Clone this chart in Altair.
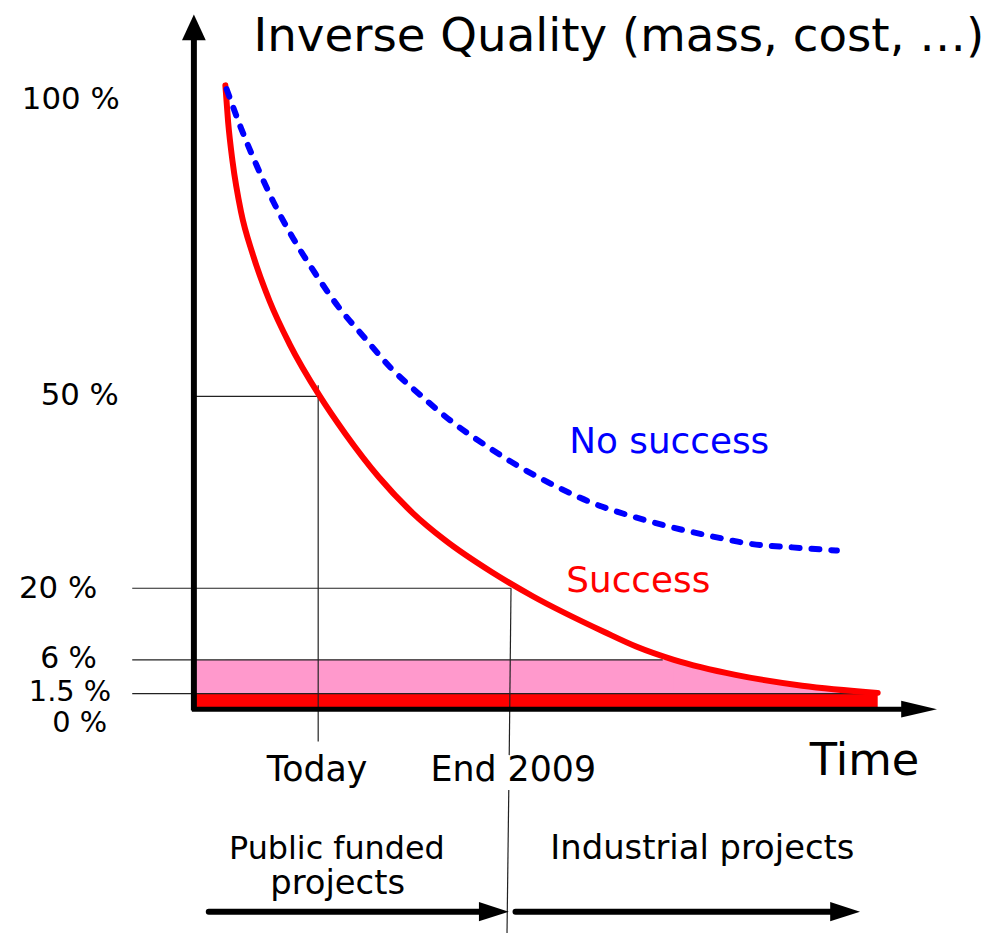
import altair as alt
import pandas as pd

# ---------------- data (time in arbitrary units, quality in %) ----------------
success_t = [4.48, 4.85, 5.45, 6.57, 8.16, 10.41, 13.04, 17.14, 20.48, 25.0, 29.52, 33.78,
             40.16, 45.61, 55.19, 59.44, 64.5, 72.74, 81.65, 91.76]
success_v = [100.0, 94.1, 87.7, 79.7, 72.8, 65.3, 58.5, 50.0, 44.25, 37.4, 31.8, 27.6,
             22.5, 18.44, 11.44, 8.6, 6.0, 4.0, 2.56, 1.6]

nosuccess_t = [4.65, 6.52, 8.64, 10.90, 13.56, 16.49, 19.55, 23.14, 26.60, 30.59, 34.84,
               39.23, 43.88, 48.80, 53.46, 59.04, 64.36, 69.68, 75.00, 80.32, 86.30]
nosuccess_v = [99.4, 93.3, 87.2, 81.3, 75.4, 69.8, 64.5, 59.4, 54.6, 50.2, 46.0,
               42.4, 38.97, 35.9, 33.4, 31.2, 29.5, 28.1, 26.9, 26.4, 25.9]

tick_labels = ["100 %", "50 %", "20 %", "6 %", "1.5 %", "0 %"]
tick_label_t = [-16.2, -15.0, -17.9, -16.5, -16.3, -15.0]
tick_label_v = [97.7, 50.0, 19.9, 6.2, 1.7, -2.3]

guide_levels = [50, 20, 6, 1.5]
guide_start = [0.27, -7.98, -7.98, -7.98]
guide_end = [17.3, 42.7, 63.0, 91.7]

today_t = 16.9
end2009_top = (42.7, 20.0)
end2009_bottom = (42.15, -37.5)

target_band = (1.5, 6.0)      # pink band
floor_level = 1.5             # red bar top
axis_t = 0.27
cross_t = 64.5                # where success reaches 6 %

# ---------------- scales ----------------
W, H = 984, 925
xs = alt.Scale(domain=[0, 100], range=[185, 937], nice=False, zero=False)
ys = alt.Scale(domain=[-40, 0, 1.5, 6, 20, 50, 100, 115],
               range=[952, 702, 687, 653, 581, 388, 75, -19], nice=False, zero=False)

def X(f="t"):
    return alt.X(f"{f}:Q", scale=xs, axis=None)

def Y(f="v"):
    return alt.Y(f"{f}:Q", scale=ys, axis=None)

succ = pd.DataFrame({"t": success_t, "v": success_v})
nosucc = pd.DataFrame({"t": nosuccess_t, "v": nosuccess_v})

# pink band: between 1.5 % and min(success, 6 %)
pink_area = alt.Chart(succ.assign(v2=target_band[0])).mark_area(
    color="#FF99CC", opacity=1, interpolate="monotone").encode(x=X(), y=Y(), y2="v2:Q")
pink_rect = alt.Chart(pd.DataFrame({"t": [axis_t], "t2": [cross_t], "v": [target_band[0]],
                                    "v2": [target_band[1]]})).mark_rect(color="#FF99CC").encode(
    x=X(), x2="t2:Q", y=Y(), y2="v2:Q")
mask = alt.Chart(pd.DataFrame({"t": [0.0], "t2": [cross_t], "v": [target_band[1]], "v2": [101.0]})).mark_rect(
    color="white").encode(x=X(), x2="t2:Q", y=Y(), y2="v2:Q")

redbar = alt.Chart(pd.DataFrame({"t": [axis_t], "t2": [success_t[-1]], "v": [0], "v2": [floor_level]})).mark_rect(
    color="#FF0000").encode(x=X(), x2="t2:Q", y=Y(), y2="v2:Q")

hl = pd.DataFrame({"t": guide_start, "t2": guide_end, "v": guide_levels})
hlines = alt.Chart(hl).mark_rule(color="#222222", strokeWidth=1.2).encode(
    x=X(), x2="t2:Q", y=Y(), y2="v:Q")

vl = pd.DataFrame({
    "t": [today_t, end2009_top[0], 42.4],
    "t2": [today_t, 42.46, end2009_bottom[0]],
    "v": [51.8, end2009_top[1], -13.1],
    "v2": [-5.3, -7.5, end2009_bottom[1]],
})
vlines = alt.Chart(vl).mark_rule(color="#222222", strokeWidth=1.2).encode(
    x=X(), x2="t2:Q", y=Y(), y2="v2:Q")

red_line = alt.Chart(succ).mark_line(color="#FF0000", strokeWidth=6, strokeCap="round",
                                     strokeJoin="round", interpolate="monotone").encode(x=X(), y=Y())
blue_line = alt.Chart(nosucc).mark_line(color="#0000FF", strokeWidth=6, strokeCap="round",
                                        strokeDash=[8, 12], interpolate="monotone").encode(x=X(), y=Y())

# axes
yaxis = alt.Chart(pd.DataFrame({"t": [axis_t], "v": [-0.3], "v2": [107.5]})).mark_rule(
    color="black", strokeWidth=6).encode(x=X(), y=Y(), y2="v2:Q")
xaxis = alt.Chart(pd.DataFrame({"t": [0.0], "t2": [95.0], "v": [-0.1]})).mark_rule(
    color="black", strokeWidth=5).encode(x=X(), x2="t2:Q", y=Y())

yhead = alt.Chart(pd.DataFrame({"t": [axis_t], "v": [109.3]})).mark_point(
    shape="M0,-1L-0.92,1L0.92,1Z", size=676, filled=True, color="black", opacity=1, strokeWidth=0
).encode(x=X(), y=Y())
xhead = alt.Chart(pd.DataFrame({"t": [97.3], "v": [-0.1]})).mark_point(
    shape="M1,0L-1,-0.47L-1,0.47Z", size=1296, filled=True, color="black", opacity=1, strokeWidth=0
).encode(x=X(), y=Y())

# phase arrows
arr = pd.DataFrame({"t": [2.26, 43.3], "t2": [38.6, 85.5], "v": [-32.7, -32.7]})
arrows = alt.Chart(arr).mark_rule(color="black", strokeWidth=6, strokeCap="round").encode(
    x=X(), x2="t2:Q", y=Y())
arrheads = alt.Chart(pd.DataFrame({"t": [40.4, 87.4], "v": [-32.7, -32.7]})).mark_point(
    shape="M1,0L-1,-0.65L-1,0.65Z", size=900, filled=True, color="black", opacity=1, strokeWidth=0
).encode(x=X(), y=Y())

# texts
FONT = "DejaVu Sans"
centered = pd.DataFrame({
    "label": tick_labels + ["Today", "End 2009", "Time", "Public funded", "projects", "Industrial projects"],
    "t": tick_label_t + [16.76, 43.0, 90.0, 19.4, 19.5, 68.3],
    "v": tick_label_v + [-9.9, -9.9, -8.4, -22.7, -28.3, -22.7],
    "fs": [31, 31, 31, 30, 29, 29] + [35, 35, 45, 32, 34, 34],
})
ctext = alt.Chart(centered).mark_text(font=FONT, align="center", baseline="middle", color="black").encode(
    x=X(), y=Y(), text="label:N", size=alt.Size("fs:Q", scale=None))

left = pd.DataFrame({
    "label": ["Inverse Quality (mass, cost, …)", "No success", "Success"],
    "t": [8.24, 50.5, 50.1],
    "v": [107.7, 42.85, 21.2],
    "fs": [47, 36, 36],
    "col": ["#000000", "#0000FF", "#FF0000"],
})
ltext = alt.Chart(left).mark_text(font=FONT, align="left", baseline="middle").encode(
    x=X(), y=Y(), text="label:N", size=alt.Size("fs:Q", scale=None), color=alt.Color("col:N", scale=None))

chart = alt.layer(
    pink_area, pink_rect, mask, redbar, hlines, vlines, red_line, blue_line, yaxis, xaxis,
    yhead, xhead, arrows, arrheads, ctext, ltext
).properties(width=W, height=H, padding=0, autosize="none", background="white"
).configure_view(strokeWidth=0)

chart.save("out.html", embed_options={"renderer": "svg", "actions": False})
